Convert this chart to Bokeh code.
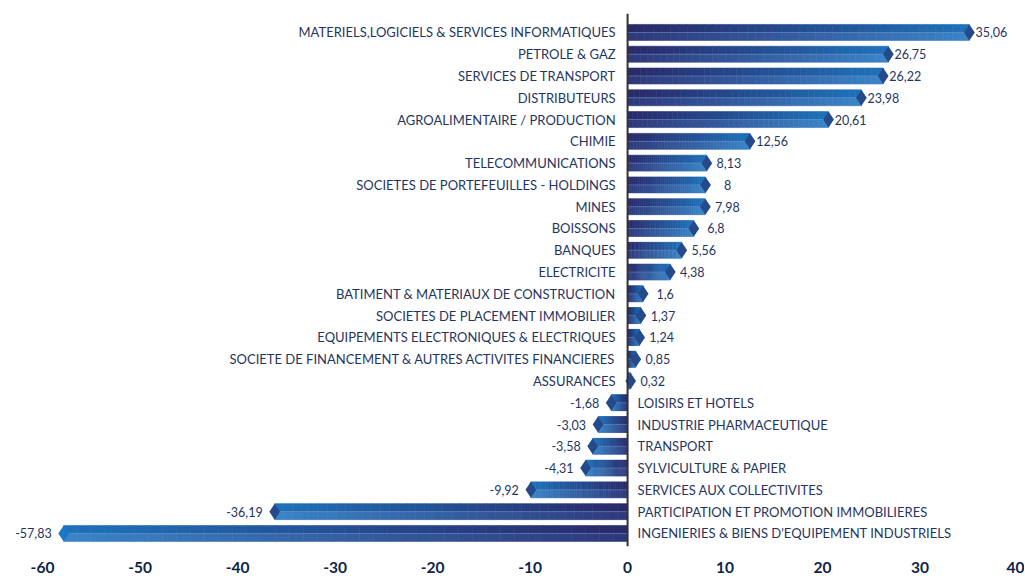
import numpy as np
from bokeh.plotting import figure
from bokeh.models import Range1d, FixedTicker, Span, ColumnDataSource
from bokeh.embed import file_html
from bokeh.resources import INLINE
from bokeh.core.properties import value

categories = [
    "MATERIELS,LOGICIELS & SERVICES INFORMATIQUES",
    "PETROLE & GAZ",
    "SERVICES DE TRANSPORT",
    "DISTRIBUTEURS",
    "AGROALIMENTAIRE / PRODUCTION",
    "CHIMIE",
    "TELECOMMUNICATIONS",
    "SOCIETES DE PORTEFEUILLES - HOLDINGS",
    "MINES",
    "BOISSONS",
    "BANQUES",
    "ELECTRICITE",
    "BATIMENT & MATERIAUX DE CONSTRUCTION",
    "SOCIETES DE PLACEMENT IMMOBILIER",
    "EQUIPEMENTS ELECTRONIQUES & ELECTRIQUES",
    "SOCIETE DE FINANCEMENT & AUTRES ACTIVITES FINANCIERES",
    "ASSURANCES",
    "LOISIRS ET HOTELS",
    "INDUSTRIE PHARMACEUTIQUE",
    "TRANSPORT",
    "SYLVICULTURE & PAPIER",
    "SERVICES AUX COLLECTIVITES",
    "PARTICIPATION ET PROMOTION IMMOBILIERES",
    "INGENIERIES & BIENS D'EQUIPEMENT INDUSTRIELS",
]
values = [35.06, 26.75, 26.22, 23.98, 20.61, 12.56, 8.13, 8, 7.98, 6.8, 5.56,
          4.38, 1.6, 1.37, 1.24, 0.85, 0.32, -1.68, -3.03, -3.58, -4.31,
          -9.92, -36.19, -57.83]
x_ticks = [-60, -50, -40, -30, -20, -10, 0, 10, 20, 30, 40]

TEXT = "#1f3561"
TOP0, TOP1 = (42, 40, 104), (30, 114, 186)
BOT0, BOT1 = (46, 56, 122), (58, 132, 200)
HALF = 0.3665
NSEG = 40


def mix(c0, c1, t):
    return "#%02x%02x%02x" % tuple(int(round(a + (b - a) * t)) for a, b in zip(c0, c1))


rows = list(range(len(categories)))

p = figure(width=1024, height=575,
           x_range=Range1d(-64, 40.5), y_range=Range1d(23.6, -0.87),
           output_backend="svg", toolbar_location=None,
           y_axis_location=None,
           min_border_left=3, min_border_right=2,
           min_border_top=13, min_border_bottom=28)
p.outline_line_color = None
p.xgrid.visible = False
p.ygrid.visible = False
p.background_fill_color = "white"

# gradient bars
q = dict(left=[], right=[], top=[], bottom=[], color=[])
for i, v in zip(rows, values):
    for k in range(NSEG):
        t = (k + 0.5) / NSEG
        l, r = v * k / NSEG, v * (k + 1) / NSEG
        q["left"].append(l); q["right"].append(r)
        q["top"].append(i - HALF); q["bottom"].append(i)
        q["color"].append(mix(TOP0, TOP1, t))
        q["left"].append(l); q["right"].append(r)
        q["top"].append(i); q["bottom"].append(i + HALF)
        q["color"].append(mix(BOT0, BOT1, t))
src = ColumnDataSource(q)
p.quad(left="left", right="right", top="top", bottom="bottom", source=src,
       fill_color="color", line_color="color", line_width=0.6)

# middle highlight line
p.segment(x0=[0] * len(values), x1=values, y0=rows, y1=rows,
          line_color="#6f93cc", line_width=1, line_alpha=0.55)

# diamond tips
vmin = min(values)
tip_colors = ["#1b78c2" if v == vmin else "#244a8a" for v in values]
p.scatter(x=values, y=rows, marker="diamond", size=16,
          fill_color=tip_colors, line_color=None)

# zero line
p.add_layout(Span(location=0, dimension="height", line_color="#333333", line_width=2))

# category labels
pos = [i for i, v in zip(rows, values) if v >= 0]
neg = [i for i, v in zip(rows, values) if v < 0]
p.text(x=[0] * len(pos), y=pos, text=[categories[i] for i in pos],
       x_offset=-12, text_align="right", text_baseline="middle",
       text_font=value("Lato"), text_font_size="13px", text_color=TEXT)
p.text(x=[0] * len(neg), y=neg, text=[categories[i] for i in neg],
       x_offset=10, text_align="left", text_baseline="middle",
       text_font=value("Lato"), text_font_size="13px", text_color=TEXT)

# value labels
fmt = lambda v: ("%g" % v).replace(".", ",")
p.text(x=[values[i] for i in pos], y=pos, text=[fmt(values[i]) for i in pos],
       x_offset=22, text_align="center", text_baseline="middle",
       text_font=value("Lato"), text_font_size="12.5px", text_color=TEXT)
p.text(x=[values[i] for i in neg], y=neg, text=[fmt(values[i]) for i in neg],
       x_offset=-12, text_align="right", text_baseline="middle",
       text_font=value("Lato"), text_font_size="12.5px", text_color=TEXT)

# x axis
ax = p.xaxis[0]
ax.ticker = FixedTicker(ticks=x_ticks)
ax.major_label_overrides = {t: str(t) for t in x_ticks}
ax.axis_line_color = None
ax.major_tick_line_color = None
ax.minor_tick_line_color = None
ax.major_label_standoff = 9
ax.major_label_text_font = "Lato"
ax.major_label_text_font_style = "bold"
ax.major_label_text_font_size = "15.5px"
ax.major_label_text_color = "#0f2448"

open("out.html", "w").write(file_html(p, INLINE))
